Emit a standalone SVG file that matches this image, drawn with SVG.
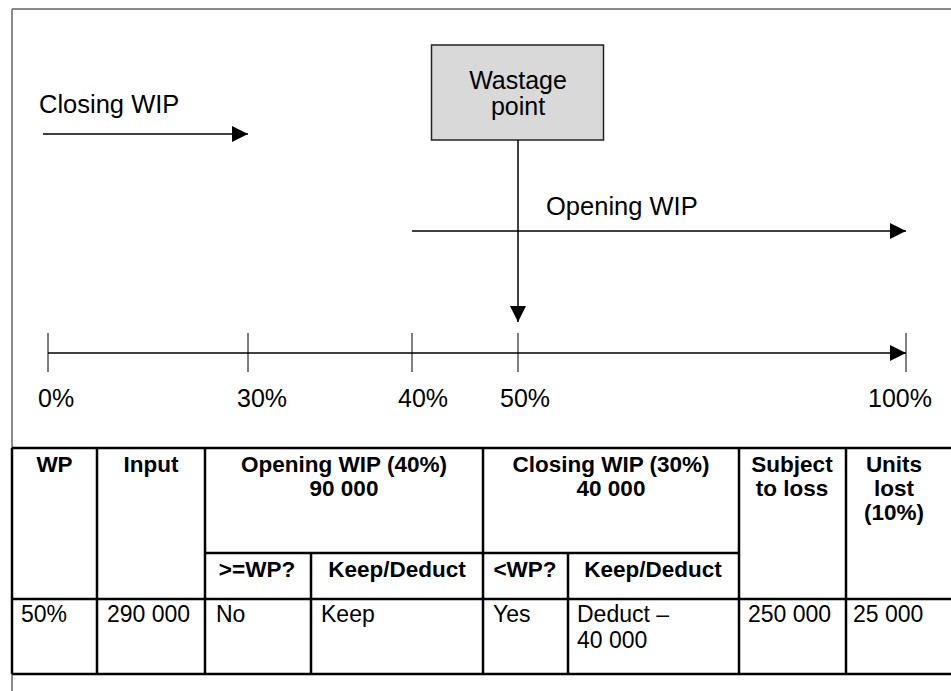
<svg xmlns="http://www.w3.org/2000/svg" width="951" height="691" viewBox="0 0 951 691">
<style>
.t{font-family:"Liberation Sans",Arial,sans-serif;font-size:25px;fill:#000}
.tb{font-family:"Liberation Sans",Arial,sans-serif;font-size:22.5px;font-weight:bold;fill:#000;text-anchor:middle}
.td{font-family:"Liberation Sans",Arial,sans-serif;font-size:23px;fill:#000}
.ln{stroke:#000;stroke-width:1.5;fill:none}
.tick{stroke:#000;stroke-width:1;fill:none}
.grid{stroke:#000;stroke-width:2.5;fill:none}
.frame{stroke:#666;stroke-width:1.5;fill:none}
</style>
<defs>
<marker id="ah" viewBox="0 0 16 16" refX="16" refY="8" markerWidth="16" markerHeight="16" markerUnits="userSpaceOnUse" orient="auto">
<path d="M0,0 L16,8 L0,16 Z" fill="#000"/>
</marker>
</defs>
<rect width="951" height="691" fill="#fff"/>
<g id="frame">
<path class="frame" d="M12,9 H951 M12,9 V691"/>
</g>
<g id="wastage-point">
<rect x="431.5" y="45" width="172" height="95" fill="#d9d9d9" stroke="#222" stroke-width="1.5"/>
<text class="t" x="518" y="89" text-anchor="middle">Wastage</text>
<text class="t" x="518" y="115" text-anchor="middle">point</text>
</g>
<g id="closing-wip-label">
<text class="t" x="39" y="113" style="font-size:25.5px">Closing WIP</text>
</g>
<g id="opening-wip-label">
<text class="t" x="546" y="215" style="font-size:25.5px">Opening WIP</text>
</g>
<g id="axis-labels">
<text class="t" x="38" y="407">0%</text>
<text class="t" x="237" y="407">30%</text>
<text class="t" x="398" y="407">40%</text>
<text class="t" x="500" y="407">50%</text>
<text class="t" x="868" y="407">100%</text>
</g>
<g id="connectors">
<line class="ln" x1="43" y1="134" x2="248" y2="134" marker-end="url(#ah)"/>
<line class="ln" x1="412" y1="231" x2="906" y2="231" marker-end="url(#ah)"/>
<line class="ln" x1="518" y1="140" x2="518" y2="322" marker-end="url(#ah)"/>
<line class="ln" x1="48" y1="353" x2="906" y2="353" marker-end="url(#ah)"/>
<path class="tick" d="M48,333 V372 M248,333 V372 M412,333 V372 M518,333 V372 M906,333 V372"/>
</g>
<g id="table">
<path class="grid" d="M12,448 H951 M205,553 H739 M12,599 H951 M12,674 H951 M12,448 V674 M97,448 V674 M205,448 V674 M311,553 V674 M483,448 V674 M568,553 V674 M739,448 V674 M846,448 V674"/>
<text class="tb" x="54.5" y="472">WP</text>
<text class="tb" x="151" y="472">Input</text>
<text class="tb" x="344" y="472">Opening WIP (40%)</text>
<text class="tb" x="344" y="496">90 000</text>
<text class="tb" x="611" y="472">Closing WIP (30%)</text>
<text class="tb" x="611" y="496">40 000</text>
<text class="tb" x="792" y="472">Subject</text>
<text class="tb" x="792" y="496">to loss</text>
<text class="tb" x="894" y="472">Units</text>
<text class="tb" x="894" y="496">lost</text>
<text class="tb" x="894" y="520">(10%)</text>
<text class="tb" x="257" y="577">&gt;=WP?</text>
<text class="tb" x="397" y="577">Keep/Deduct</text>
<text class="tb" x="525" y="577">&lt;WP?</text>
<text class="tb" x="653" y="577">Keep/Deduct</text>
<text class="td" x="21" y="622">50%</text>
<text class="td" x="107" y="622">290 000</text>
<text class="td" x="216" y="622">No</text>
<text class="td" x="321" y="622">Keep</text>
<text class="td" x="493" y="622">Yes</text>
<text class="td" x="577" y="622">Deduct –</text>
<text class="td" x="577" y="648">40 000</text>
<text class="td" x="748" y="622">250 000</text>
<text class="td" x="853" y="622">25 000</text>
</g>
</svg>
